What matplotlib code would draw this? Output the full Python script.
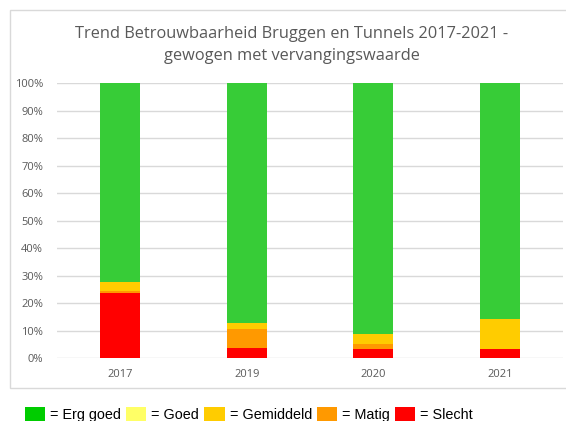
import matplotlib.pyplot as plt
from matplotlib.patches import Patch, Rectangle
import numpy as np

# Data (percentages per category, weighted by replacement value)
jaren = ['2017', '2019', '2020', '2021']
slecht = [23.6, 3.9, 3.4, 3.3]
matig = [1.0, 6.8, 1.8, 0.0]
gemiddeld = [3.0, 2.2, 3.5, 11.0]
goed = [0.0, 0.0, 0.0, 0.0]
erg_goed = [72.4, 87.1, 91.3, 85.7]

legend_labels = ['= Erg goed', '= Goed', '= Gemiddeld', '= Matig', '= Slecht']

W, H = 566, 421
fig = plt.figure(figsize=(W / 100, H / 100), dpi=100)

# chart frame
fig.patches.append(Rectangle((10 / W, 1 - 388 / H), 1.2, (388 - 10) / H,
                             transform=fig.transFigure, facecolor='white',
                             edgecolor='#d9d9d9', linewidth=1, zorder=-10))

ax = fig.add_axes([57 / W, 1 - 358.3 / H, 506 / W, 275 / H])
ax.set_facecolor('none')

x = np.arange(len(jaren))
bw = 0.32
series = [slecht, matig, gemiddeld, goed, erg_goed]
bar_colors = ['#ff0000', '#ff9900', '#ffcc00', '#ffff66', '#37cc37']
bottom = np.zeros(len(jaren))
for vals, c in zip(series, bar_colors):
    ax.bar(x, vals, bw, bottom=bottom, color=c, zorder=3)
    bottom += np.array(vals)

ax.set_xlim(-0.5, 3.5)
ax.set_ylim(0, 100)
ax.set_yticks(np.arange(0, 101, 10))
ax.set_yticklabels([f'{v}%' for v in range(0, 101, 10)])
ax.set_xticks(x)
ax.set_xticklabels(jaren)
ax.yaxis.grid(True, color='#d9d9d9', linewidth=1, zorder=0)
for s in ax.spines.values():
    s.set_visible(False)
ax.tick_params(length=0, colors='#595959', labelsize=8, pad=10)
ax.tick_params(axis='x', pad=8)
for t in ax.get_xticklabels() + ax.get_yticklabels():
    t.set_fontfamily('Open Sans')

fig.text(292 / W, 1 - 45 / H,
         'Trend Betrouwbaarheid Bruggen en Tunnels 2017-2021 -\ngewogen met vervangingswaarde',
         ha='center', va='center', fontsize=11.8, color='#595959',
         family='Open Sans', linespacing=1.52)

legend_colors = ['#00cc00', '#ffff66', '#ffcc00', '#ff9900', '#ff0000']
handles = [Patch(facecolor=c, edgecolor='none') for c in legend_colors]
fig.legend(handles, legend_labels, loc='lower left',
           bbox_to_anchor=(25 / W, -0.002), ncol=5, frameon=False,
           prop={'family': 'Liberation Sans', 'size': 10.4},
           handlelength=1.4, handleheight=1.05, handletextpad=0.35,
           columnspacing=0.35, borderpad=0, borderaxespad=0)

fig.savefig('out.png', dpi=100)
